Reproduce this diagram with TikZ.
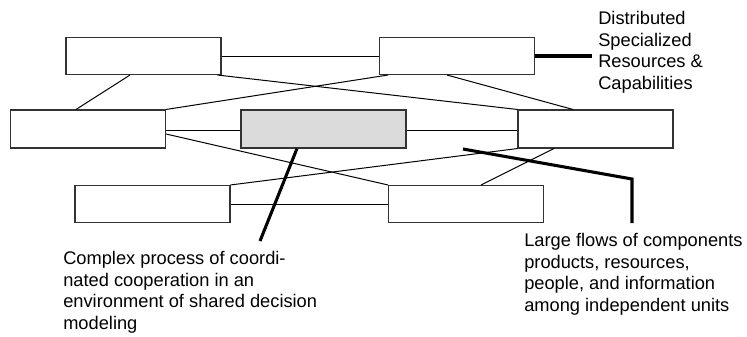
\documentclass[tikz,border=0pt]{standalone}
\usepackage{fontspec}
\setmainfont{Liberation Sans}
\usetikzlibrary{calc}
\begin{document}
\begin{tikzpicture}[x=0.75pt,y=-0.75pt,
  unitbox/.style={draw=black!80,line width=0.8pt,fill=white,inner sep=0pt,
    minimum width=155*0.75pt,minimum height=37*0.75pt},
  corebox/.style={unitbox,fill=black!14,minimum width=165*0.75pt},
  link/.style={draw=black,line width=0.75pt},
  callout/.style={draw=black,line width=2.3pt},
  note/.style={inner sep=0pt,anchor=north west,align=left,
    font=\fontsize{13.7}{16.3}\selectfont}]
  \useasboundingbox (0,0) rectangle (747,336);

  % independent units
  \node[unitbox] (A) at (143.5,56) {};
  \node[unitbox] (B) at (457,56) {};
  \node[unitbox,minimum height=38*0.75pt] (C) at (88,129) {};
  \node[corebox,minimum height=38*0.75pt] (D) at (323.5,129) {};
  \node[unitbox,minimum height=38*0.75pt] (E) at (595.5,129) {};
  \node[unitbox] (F) at (152.5,204) {};
  \node[unitbox] (G) at (466,204) {};

  % links between units
  \draw[link] (A.east) -- (B.west);
  \draw[link] ([xshift=-13.5*0.75pt]A.south) -- ([xshift=-12*0.75pt]C.north);
  \draw[link] ([xshift=-4*0.75pt]A.south east) -- (E.north west);
  \draw[link] ([xshift=9*0.75pt]B.south west) -- (C.north east);
  \draw[link] ([xshift=-10*0.75pt]B.south) -- ([xshift=-22.5*0.75pt]E.north);
  \draw[link] ([yshift=-1.5*0.75pt]C.east) -- ([yshift=-1.5*0.75pt]D.west);
  \draw[link] ([yshift=-1.5*0.75pt]D.east) -- ([yshift=-1.5*0.75pt]E.west);
  \draw[link] ([yshift=-5*0.75pt]C.east) -- (G.north west);
  \draw[link] (F.north east) -- (E.south west);
  \draw[link] (F.east) -- (G.west);
  \draw[link] ([xshift=-41.5*0.75pt]E.south) -- ([xshift=15*0.75pt]G.north);

  % callouts
  \coordinate (resEnd) at (592,56);
  \coordinate (coopEnd) at (260,241);
  \coordinate (flowStart) at (463,149);
  \coordinate (flowBend) at (632,179);
  \coordinate (flowEnd) at (632,223);
  \draw[callout] (B.east) -- (resEnd);
  \draw[callout] ([xshift=-26.5*0.75pt]D.south) -- (coopEnd);
  \draw[callout] (flowStart) -- (flowBend) -- (flowEnd);

  % notes
  \node[note] (resNote) at (598,11) {Distributed\\Specialized\\Resources \&\\Capabilities};
  \node[note] (coopNote) at (63,251) {Complex process of coordi-\\nated cooperation in an\\environment of shared decision\\modeling};
  \node[note] (flowNote) at (524,233) {Large flows of components\\products, resources,\\people, and information\\among independent units};
\end{tikzpicture}
\end{document}
